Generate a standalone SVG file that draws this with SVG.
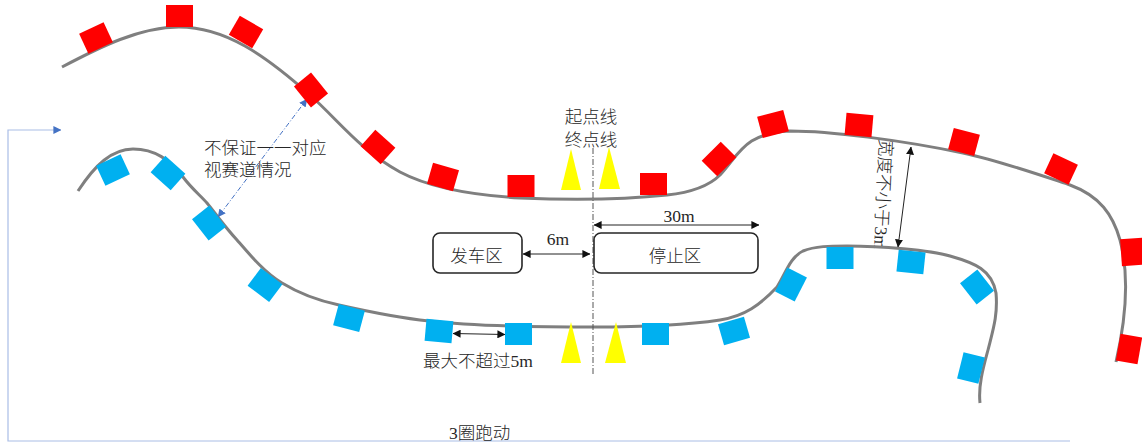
<svg xmlns="http://www.w3.org/2000/svg" width="1142" height="443" viewBox="0 0 1142 443">
<style>
.track{fill:none;stroke:#7f7f7f;stroke-width:3}
.red{fill:#ff0000}
.blue{fill:#00b0f0}
.cone{fill:#ffff00}
.box{fill:#fff;stroke:#262626;stroke-width:1.6}
.t{font-family:"Liberation Serif","Noto Sans CJK SC",serif;font-size:17.5px;fill:#262626;font-weight:300}
.m{text-anchor:middle}
.dim{fill:none;stroke:#222;stroke-width:1;marker-start:url(#ah);marker-end:url(#ah)}
</style>
<defs>
<marker id="ah" viewBox="0 0 10 10" refX="9.5" refY="5" markerUnits="userSpaceOnUse" markerWidth="8" markerHeight="8" orient="auto-start-reverse"><path d="M0,0L10,5L0,10Z" fill="#111"/></marker>
<marker id="bh" viewBox="0 0 10 10" refX="9.5" refY="5" markerUnits="userSpaceOnUse" markerWidth="8" markerHeight="8" orient="auto-start-reverse"><path d="M0,0L10,5L0,10Z" fill="#4472c4"/></marker>
<rect id="mk" x="-13.500" y="-11" width="27" height="22"/>
</defs>

<rect width="1142" height="443" fill="#fff"/>

<text class="t m" transform="translate(883 194) rotate(93)" y="6">宽度不小于3m</text>

<g id="connectors">
<path class="track" d="M62,67C100,47 140,27 179,27C225,27 265,55 310,95C340,122 360,150 400,172C430,188 470,195 520,198C570,200 620,200 667,195C695,192 710,185 720,175C740,153 745,133 790,131C830,131 900,140 963,153C1000,161 1040,175 1070,185C1100,196 1113,215 1120,240C1128,270 1128,310 1116,362"/>
<path class="track" d="M78,191C95,165 112,149 133,149C155,149 170,160 183,177C192,189 200,195 207,203C215,213 225,227 237,240C250,255 265,273 282,283C300,294 320,301 339,305C370,312 400,318 429,321C470,326 540,327 593,327C630,327 680,326 720,320C745,316 760,305 777,287C785,275 790,257 803,251C815,246 830,246 847,246C880,246 930,250 950,256C975,263 992,270 996,293C998,315 993,330 988,350C984,365 978,385 980,403"/>
<path d="M1070,441H8V130H61" fill="none" stroke="#a9bde6" stroke-width="1.2" marker-end="url(#bh)"/>
<path d="M307,99L218,217" fill="none" stroke="#4472c4" stroke-width="1" stroke-dasharray="5 2 1 2" marker-start="url(#bh)" marker-end="url(#bh)"/>
<path d="M593,148V376" fill="none" stroke="#555" stroke-width="1" stroke-dasharray="6 2 1 2"/>
<path class="dim" d="M523,254H590"/>
<path class="dim" d="M594,225H759"/>
<path class="dim" d="M453,333.500L505,334.500"/>
<path class="dim" d="M911,147L898,247"/>
</g>

<g id="red-1" transform="translate(96 38) rotate(-25)"><use href="#mk" class="red"/></g>
<g id="red-2" transform="translate(179.500 16)"><use href="#mk" class="red"/></g>
<g id="red-3" transform="translate(246 32) rotate(30)"><use href="#mk" class="red"/></g>
<g id="red-4" transform="translate(311 90) rotate(51)"><use href="#mk" class="red"/></g>
<g id="red-5" transform="translate(378 147) rotate(42)"><use href="#mk" class="red"/></g>
<g id="red-6" transform="translate(443 177) rotate(16)"><use href="#mk" class="red"/></g>
<g id="red-7" transform="translate(521 186)"><use href="#mk" class="red"/></g>
<g id="red-8" transform="translate(653.500 184)"><use href="#mk" class="red"/></g>
<g id="red-9" transform="translate(719 159) rotate(-45)"><use href="#mk" class="red"/></g>
<g id="red-10" transform="translate(773 124) rotate(-15)"><use href="#mk" class="red"/></g>
<g id="red-11" transform="translate(859 125) rotate(5)"><use href="#mk" class="red"/></g>
<g id="red-12" transform="translate(964 142) rotate(15)"><use href="#mk" class="red"/></g>
<g id="red-13" transform="translate(1061 169) rotate(25)"><use href="#mk" class="red"/></g>
<g id="red-14" transform="translate(1132 252) rotate(86)"><use href="#mk" class="red"/></g>
<g id="red-15" transform="translate(1129 349) rotate(100)"><use href="#mk" class="red"/></g>

<g id="blue-1" transform="translate(113 170) rotate(-25)"><use href="#mk" class="blue"/></g>
<g id="blue-2" transform="translate(168 173) rotate(42)"><use href="#mk" class="blue"/></g>
<g id="blue-3" transform="translate(209 223) rotate(52)"><use href="#mk" class="blue"/></g>
<g id="blue-4" transform="translate(265 285) rotate(37)"><use href="#mk" class="blue"/></g>
<g id="blue-5" transform="translate(349 318) rotate(15)"><use href="#mk" class="blue"/></g>
<g id="blue-6" transform="translate(439 331) rotate(5)"><use href="#mk" class="blue"/></g>
<g id="blue-7" transform="translate(518.500 334)"><use href="#mk" class="blue"/></g>
<g id="blue-8" transform="translate(655.500 334)"><use href="#mk" class="blue"/></g>
<g id="blue-9" transform="translate(734 331) rotate(-16)"><use href="#mk" class="blue"/></g>
<g id="blue-10" transform="translate(791 284.500) rotate(-63)"><use href="#mk" class="blue"/></g>
<g id="blue-11" transform="translate(840 258)"><use href="#mk" class="blue"/></g>
<g id="blue-12" transform="translate(911 262) rotate(6)"><use href="#mk" class="blue"/></g>
<g id="blue-13" transform="translate(977 287) rotate(52)"><use href="#mk" class="blue"/></g>
<g id="blue-14" transform="translate(971 368) rotate(104)"><use href="#mk" class="blue"/></g>

<g id="cone-1"><polygon class="cone" points="571,149 581,190 561,190"/></g>
<g id="cone-2"><polygon class="cone" points="609,147 620,189 599,189"/></g>
<g id="cone-3"><polygon class="cone" points="571,322 581,363 561,363"/></g>
<g id="cone-4"><polygon class="cone" points="616,322 626,363 605,363"/></g>

<g id="start-zone"><rect class="box" x="433" y="233" width="89" height="40" rx="7"/><text class="t m" x="476.500" y="262">发车区</text></g>
<g id="stop-zone"><rect class="box" x="594" y="233" width="164" height="40" rx="7"/><text class="t m" x="675" y="262">停止区</text></g>

<g id="labels">
<text class="t" x="204" y="154">不保证一一对应</text>
<text class="t" x="204" y="176">视赛道情况</text>
<text class="t m" x="591" y="123">起点线</text>
<text class="t m" x="591" y="146">终点线</text>
<text class="t m" x="679" y="222">30m</text>
<text class="t m" x="558" y="245">6m</text>
<text class="t" x="423" y="367">最大不超过5m</text>
<text class="t" x="449" y="439">3圈跑动</text>
</g>
</svg>
